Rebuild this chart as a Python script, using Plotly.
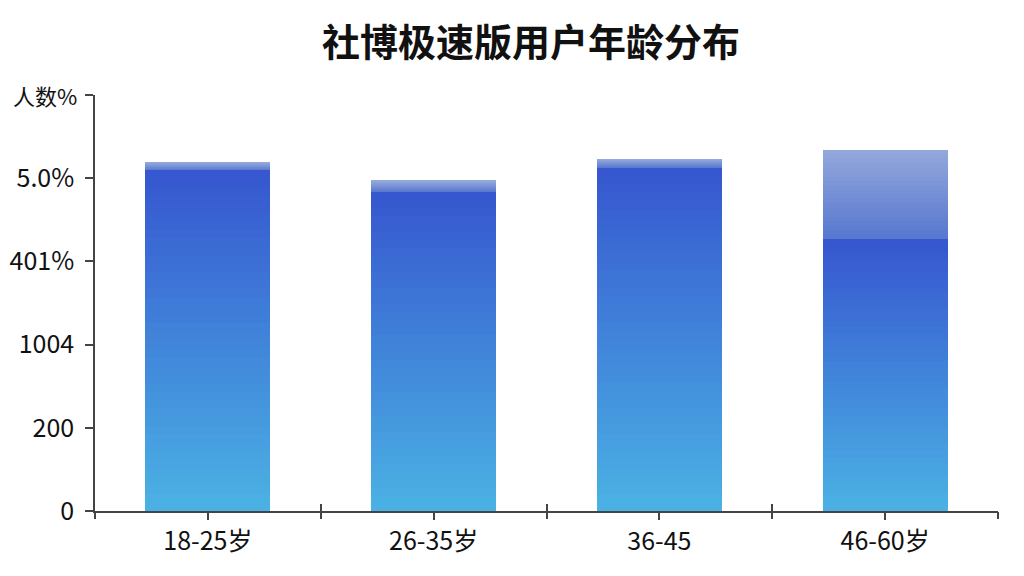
import plotly.graph_objects as go

# ---- data ----
categories = ["18-25岁", "26-35岁", "36-45", "46-60岁"]
main_values = [4.10, 3.84, 4.13, 3.27]     # dark gradient part of each bar
extra_values = [0.09, 0.13, 0.10, 1.07]    # light cap on top of each bar
ytick_vals = [0, 1, 2, 3, 4, 5]
ytick_text = ["0", "200", "1004", "401%", "5.0%", ""]
y_unit_label = "人数%"
title_text = "社博极速版用户年龄分布"


def lerp(c1, c2, t):
    a = [int(c1[i:i + 2], 16) for i in (1, 3, 5)]
    b = [int(c2[i:i + 2], 16) for i in (1, 3, 5)]
    return "rgb(%d,%d,%d)" % tuple(round(a[k] + (b[k] - a[k]) * t) for k in range(3))


fig = go.Figure()

# gradient fill: each bar is drawn as stacked colour bands (style only)
N = 40
for i in range(N):
    t = (i + 0.5) / N
    fig.add_trace(go.Bar(
        x=categories, y=[v / N for v in main_values],
        marker=dict(color=lerp("#4bb2e4", "#3656cf", t), line=dict(width=0)),
        showlegend=False, hoverinfo="skip"))
M = 20
for i in range(M):
    t = (i + 0.5) / M
    fig.add_trace(go.Bar(
        x=categories, y=[v / M for v in extra_values],
        marker=dict(color=lerp("#5877cf", "#93a8db", t), line=dict(width=0)),
        showlegend=False, hoverinfo="skip"))

# helper traces for boundary ticks on overlay axes
bounds = [k - 0.5 for k in range(len(categories) + 1)]
for ax in ("x2", "x3"):
    fig.add_trace(go.Scatter(x=[bounds[0], bounds[-1]], y=[0, 0], xaxis=ax,
                             mode="lines", line=dict(width=0),
                             showlegend=False, hoverinfo="skip"))

FONT = "Noto Sans CJK SC, sans-serif"
tickfont = dict(family=FONT, size=25, color="#111111")

# the page body has an 8px margin, so the figure is sized to fit the window
W, H, OFF = 1016, 568, 8
L, R, T, B = 95 - OFF, 26, 95 - OFF, 65
plot_w = W - L - R

fig.update_layout(
    width=W, height=H,
    paper_bgcolor="white", plot_bgcolor="white",
    barmode="stack", bargap=0.446,
    margin=dict(l=L, r=R, t=T, b=B),
    title=dict(text=title_text, x=(531 - OFF) / W, xref="container", xanchor="center",
               y=1 - (43 - OFF) / H, yref="container", yanchor="middle",
               font=dict(family=FONT, size=38, color="#111111", weight="bold")),
    xaxis=dict(type="category", range=[-0.5, 3.5], showgrid=False,
               showline=True, linecolor="#444444", linewidth=1.5,
               ticks="outside", ticklen=7, tickwidth=1.5, tickcolor="#444444",
               tickfont=tickfont, fixedrange=True, automargin=False),
    xaxis2=dict(overlaying="x", range=[-0.5, 3.5], tickvals=bounds,
                showticklabels=False, showgrid=False, showline=False,
                ticks="inside", ticklen=7, tickwidth=1.5, tickcolor="#444444",
                zeroline=False, anchor="y", automargin=False),
    xaxis3=dict(overlaying="x", range=[-0.5, 3.5], tickvals=bounds,
                showticklabels=False, showgrid=False, showline=False,
                ticks="outside", ticklen=7, tickwidth=1.5, tickcolor="#444444",
                zeroline=False, anchor="y", side="bottom", automargin=False),
    yaxis=dict(range=[0, 5], tickvals=ytick_vals, ticktext=ytick_text,
               showgrid=False, zeroline=False,
               showline=True, linecolor="#444444", linewidth=1.5,
               ticks="outside", ticklen=8, tickwidth=1.5, tickcolor="#444444",
               ticklabelstandoff=6,
               tickfont=tickfont, fixedrange=True, automargin=False),
    annotations=[dict(text=y_unit_label, xref="paper", yref="y",
                      x=-(95 - 79) / plot_w, y=ytick_vals[-1],
                      xanchor="right", yanchor="middle", showarrow=False,
                      font=dict(family=FONT, size=22, color="#111111"))],
)

fig.write_html("out.html")
